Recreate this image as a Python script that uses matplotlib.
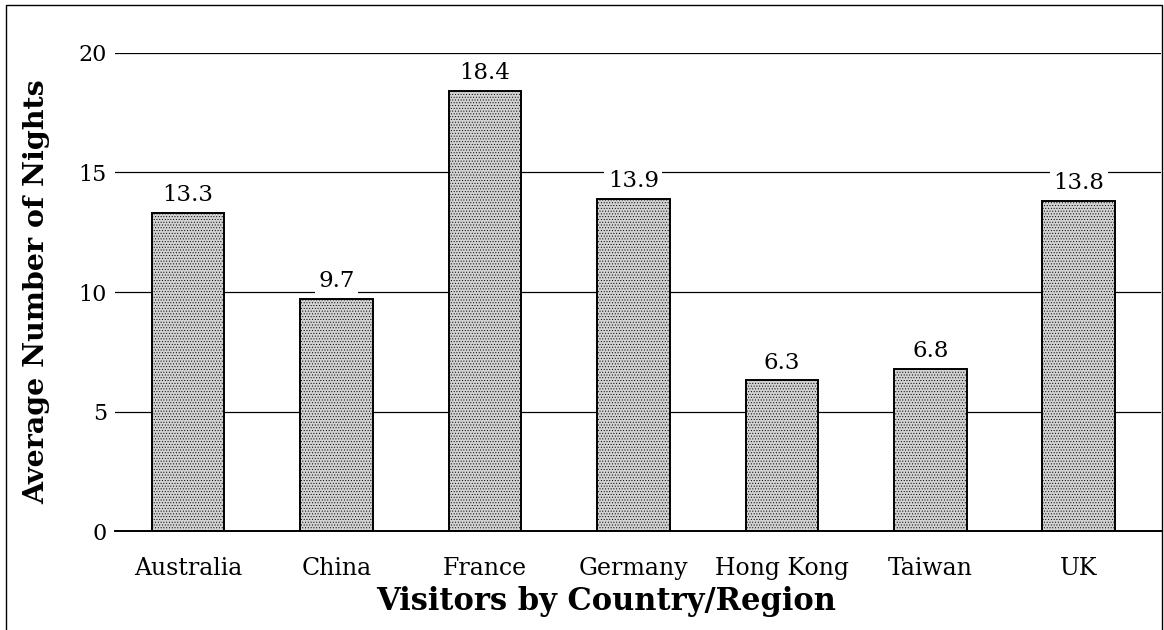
import matplotlib
matplotlib.use("Agg")
import matplotlib.pyplot as plt
from matplotlib.patches import Rectangle

# data
countries = ["Australia", "China", "France", "Germany", "Hong Kong", "Taiwan", "UK"]
nights = [13.3, 9.7, 18.4, 13.9, 6.3, 6.8, 13.8]
yticks = [0, 5, 10, 15, 20]

plt.rcParams['font.family'] = ['DejaVu Serif']
plt.rcParams['hatch.color'] = '#9a9a9a'
plt.rcParams['hatch.linewidth'] = 0.4

fig = plt.figure(figsize=(11.64, 6.30), dpi=100)
ax = fig.add_axes([0.099, 0.157, 0.898, 0.759])

xs = list(range(len(countries)))
bars = ax.bar(xs, nights, width=0.49, color='#d2d2d2', edgecolor='black',
              linewidth=1.4, hatch='......', zorder=3)

for x, v in zip(xs, nights):
    ax.annotate(f"{v:.1f}", (x, v), xytext=(0, 5), textcoords='offset points',
                ha='center', va='bottom', fontsize=16.5, zorder=4,
                bbox=dict(boxstyle='square,pad=0.15', fc='white', ec='none'))

ax.set_ylim(0, 20)
ax.set_xlim(-0.49, 6.55)
ax.set_yticks(yticks)
ax.set_xticks(xs)
ax.set_xticklabels(countries, fontsize=17)
ax.tick_params(axis='both', length=0)
ax.tick_params(axis='y', pad=6, labelsize=16)
ax.tick_params(axis='x', pad=19)
ax.yaxis.grid(True, color='black', linewidth=0.9, zorder=0)
ax.set_axisbelow(True)
for s in ['left', 'right', 'top']:
    ax.spines[s].set_visible(False)
ax.spines['bottom'].set_linewidth(1.4)
ax.spines['bottom'].set_zorder(5)

ax.set_xlabel("Visitors by Country/Region", fontsize=22, fontweight='bold',
              labelpad=4, x=0.47)
ax.set_ylabel("Average Number of Nights", fontsize=20.5, fontweight='bold', labelpad=20)

# frame around the whole picture
fig.add_artist(Rectangle((0.005, -0.05), 0.993, 1.042, transform=fig.transFigure,
                         fill=False, edgecolor='black', linewidth=1.0))

fig.savefig("out.png", dpi=100)
